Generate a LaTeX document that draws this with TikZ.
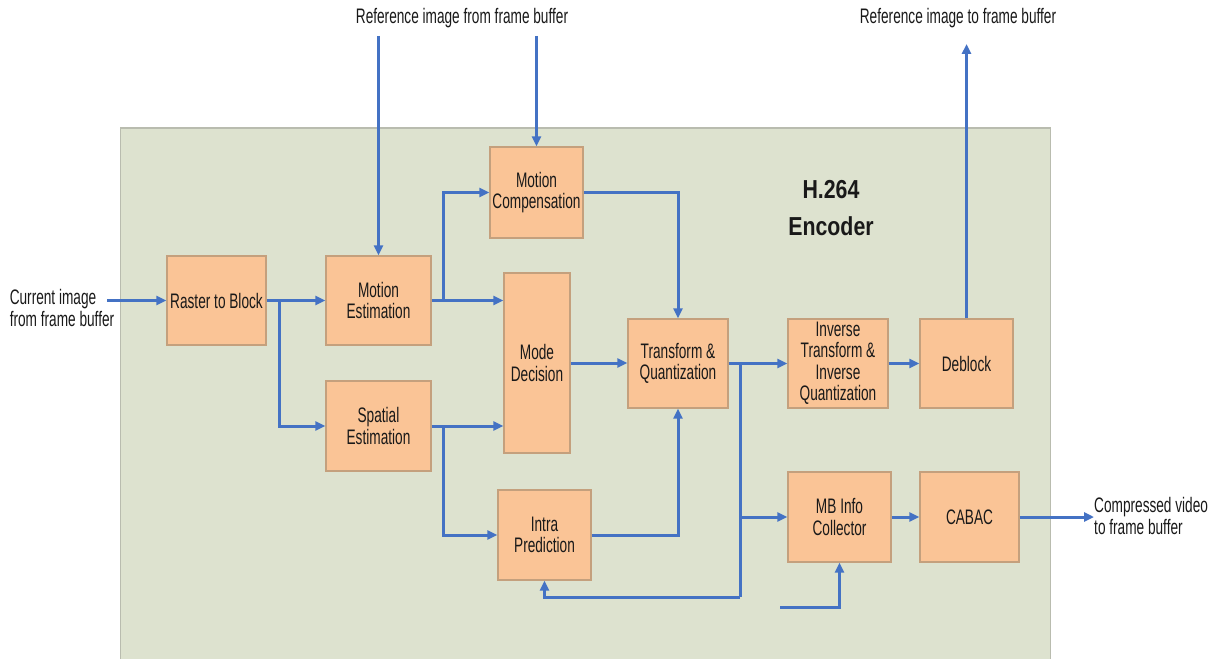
\documentclass[tikz,border=0pt]{standalone}
\usepackage{fontspec}
\setmainfont{Liberation Sans}[FakeStretch=0.82]
\newfontfamily\narrowfont{Liberation Sans}[FakeStretch=0.65]
\usetikzlibrary{arrows.meta}
\definecolor{panel}{RGB}{221,226,207}
\definecolor{panelrule}{RGB}{185,188,175}
\definecolor{blockfill}{RGB}{250,196,150}
\definecolor{blockrule}{RGB}{196,160,125}
\definecolor{flow}{RGB}{68,114,196}
\definecolor{ink}{RGB}{25,25,25}
\begin{document}
\begin{tikzpicture}[x=1pt,y=-1pt,
  blk/.style={draw=blockrule,line width=1.2pt,fill=blockfill,align=center,
    inner sep=1pt,text=ink,font=\narrowfont\fontsize{21}{21.5}\selectfont},
  lbl/.style={align=left,inner sep=0pt,text=ink,font=\narrowfont\fontsize{21}{21.5}\selectfont},
  arr/.style={draw=flow,line width=3pt,-{Triangle[length=10pt,width=9pt]}},
  wire/.style={draw=flow,line width=3pt}]
\useasboundingbox (0,0) rectangle (1217,658);
% encoder panel
\fill[panel,draw=panelrule,line width=1pt] (120,128) rectangle (1050,662);
\node[align=center,text=ink,font=\bfseries\fontsize{26}{37}\selectfont] (title) at (831,208) {H.264\\Encoder};

% processing blocks
\node[blk,minimum width=99pt,minimum height=89pt] (rb) at (216.5,300.5) {Raster to Block};
\node[blk,minimum width=105pt,minimum height=89pt] (me) at (378.5,300.5) {Motion\\Estimation};
\node[blk,minimum width=105pt,minimum height=90pt] (se) at (378.5,426) {Spatial\\Estimation};
\node[blk,minimum width=93pt,minimum height=91pt] (mc) at (536.5,192.5) {Motion\\Compensation};
\node[blk,minimum width=66pt,minimum height=180pt] (md) at (537,363) {Mode\\Decision};
\node[blk,minimum width=93pt,minimum height=90pt] (ip) at (544.5,535) {Intra\\Prediction};
\node[blk,minimum width=100pt,minimum height=89pt] (tq) at (678,363.5) {Transform \&\\Quantization};
\node[blk,minimum width=100pt,minimum height=89pt] (it) at (838,363.5) {Inverse\\Transform \&\\Inverse\\Quantization};
\node[blk,minimum width=93pt,minimum height=89pt] (db) at (966.5,363.5) {Deblock};
\node[blk,minimum width=103pt,minimum height=90pt] (mb) at (839.5,517) {MB Info\\Collector};
\node[blk,minimum width=99pt,minimum height=90pt] (cb) at (969.5,517) {CABAC};

% outside labels
\node[lbl] (cur) at (62,308) {Current image\\from frame buffer};
\node[lbl] (refin) at (462,18) {Reference image from frame buffer};
\node[lbl] (refout) at (958,18) {Reference image to frame buffer};
\node[lbl,anchor=west] (cmp) at (1094,516) {Compressed video\\to frame buffer};

% junctions and free ends
\coordinate (cin) at (107,300.5);
\coordinate (rin1) at (378.5,36);
\coordinate (rin2) at (536.5,36);
\coordinate (rout) at (966.5,44);
\coordinate (j0) at (279,300.5);
\coordinate (j1) at (443,300.5);
\coordinate (j2) at (443,426);
\coordinate (j3) at (740,363.5);
\coordinate (fb) at (544.5,597);
\coordinate (mbin) at (780,607);

% connectors
\draw[arr] (cin) -- (rb.west);
\draw[arr] (rb.east) -- (me.west);
\draw[arr] (j0) |- (se.west);
\draw[arr] (rin1) -- (me.north);
\draw[arr] (rin2) -- (mc.north);
\draw[arr] (me.east) -- (me.east -| md.west);
\draw[arr] (j1) |- (mc.west);
\draw[arr] (se.east) -- (se.east -| md.west);
\draw[arr] (j2) |- (ip.west);
\draw[arr] (mc.east) -| (tq.north);
\draw[arr] (md.east) -- (md.east -| tq.west);
\draw[arr] (ip.east) -| (tq.south);
\draw[arr] (tq.east) -- (it.west);
\draw[wire] (j3) -- (j3 |- fb);
\draw[arr] (j3 |- fb) -- (fb) -- (ip.south);
\draw[arr] (j3 |- mb.west) -- (mb.west);
\draw[arr] (it.east) -- (db.west);
\draw[arr] (db.north) -- (rout);
\draw[arr] (mb.east) -- (cb.west);
\draw[arr] (cb.east) -- (cb.east -| cmp.west);
\draw[arr] (mbin) -| (mb.south);
\end{tikzpicture}
\end{document}
